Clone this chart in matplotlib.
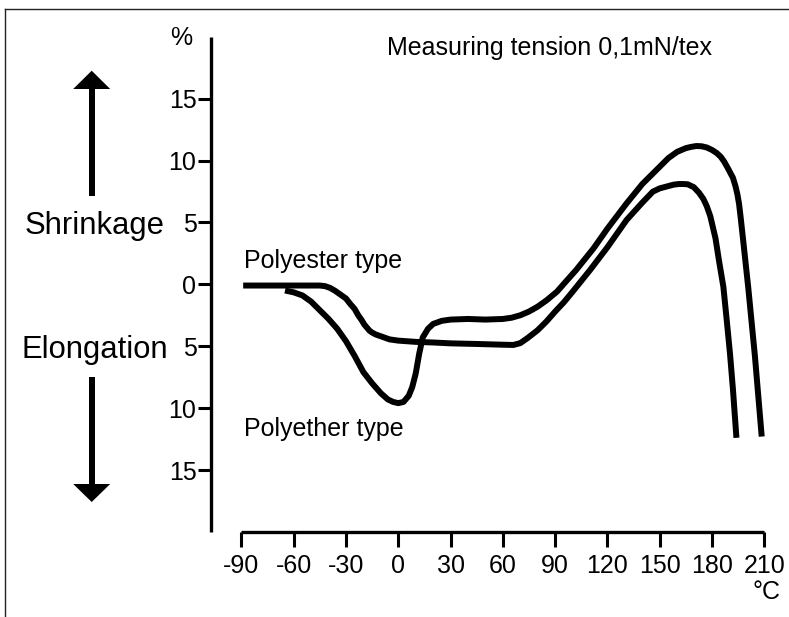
import matplotlib
matplotlib.use("Agg")
import matplotlib.pyplot as plt
from matplotlib.patches import Polygon
from matplotlib.lines import Line2D

plt.rcParams['font.family'] = ['Liberation Sans', 'DejaVu Sans']

# ---- data ----
polyester_T = [-89, -70, -55, -45, -42, -39, -36, -33, -30, -27.5, -25, -23, -21, -19.5, -18,
               -16.5, -15, -13, -10, -8, -5, 0,
               10, 20, 30, 45, 60, 66, 70, 74, 80, 85, 90, 95, 100, 110, 120, 131,
               140, 146, 150, 154, 158, 161, 163.5, 166, 169.5, 172.5, 175, 177, 179, 180.5, 182,
               184, 186.5, 188.5, 190.3, 192, 194]
polyester_v = [-0.1, -0.1, -0.1, -0.1, -0.15, -0.3, -0.55, -0.85, -1.15, -1.6, -2.0, -2.5, -2.9, -3.25, -3.5,
               -3.75, -3.9, -4.05, -4.2, -4.3, -4.45, -4.55,
               -4.65, -4.7, -4.77, -4.82, -4.88, -4.9, -4.75, -4.36, -3.7, -3.0, -2.2, -1.45, -0.6, 1.15, 3.0, 5.2,
               6.6, 7.48, 7.75, 7.9, 8.05, 8.1, 8.1, 8.08, 7.85, 7.4, 6.9, 6.3, 5.5, 4.6, 3.7,
               1.9, -0.2, -3.0, -5.6, -8.5, -12.4]

polyether_T = [-65, -60, -55, -50, -45, -40, -35, -30, -25, -20, -15, -10, -6, -3, 0,
               3, 6, 8, 10, 12, 14, 17, 20, 25, 30, 40, 50, 60, 65, 70, 75, 80, 85,
               91, 96, 102, 112, 120, 131, 140, 150, 155, 160, 165, 168, 171, 174, 177, 180,
               182.7, 185, 187, 189, 190.5, 192, 193.5, 194.5, 195.5, 196.5, 197.9, 200.8, 204.6, 208.5]
polyether_v = [-0.5, -0.65, -0.9, -1.4, -2.1, -2.8, -3.6, -4.6, -5.8, -7.1, -8.0, -8.8, -9.3, -9.5, -9.6,
               -9.5, -9.0, -8.3, -7.2, -5.6, -4.3, -3.6, -3.2, -2.95, -2.85, -2.8, -2.85, -2.8, -2.7, -2.5, -2.2, -1.8, -1.3,
               -0.6, 0.2, 1.15, 2.9, 4.5, 6.54, 8.1, 9.5, 10.2, 10.7, 11.0, 11.1, 11.17, 11.15, 11.05, 10.85,
               10.6, 10.3, 9.9, 9.4, 9.0, 8.6, 7.9, 7.3, 6.5, 5.3, 3.5, -0.3, -5.8, -12.3]

x_ticks = [-90, -60, -30, 0, 30, 60, 90, 120, 150, 180, 210]
x_tick_labels = ['-90', '-60', '-30', '0', '30', '60', '90', '120', '150', '180', '210']
y_ticks = [-15, -10, -5, 0, 5, 10, 15]
y_tick_labels = ['15', '10', '5', '0', '5', '10', '15']

W, H = 789, 617
fig = plt.figure(figsize=(W / 100, H / 100), dpi=100)
ax = fig.add_axes([0, 0, 1, 1])

# pixel mapping: x_px = 398.3 + 1.743*T ; y_px = 284.3 - 12.38*v
x0, sx = 398.3, 1.743
y0, sy = 284.3, 12.38
ax.set_xlim((0 - x0) / sx, (W - x0) / sx)
ax.set_ylim((y0 - H) / sy, (y0 - 0) / sy)
ax.patch.set_alpha(0)

lw_curve = 4.3
for T, v in ((polyester_T, polyester_v), (polyether_T, polyether_v)):
    ax.plot(T, v, color='black', lw=lw_curve, solid_capstyle='butt',
            solid_joinstyle='round')

# spines
for s in ('top', 'right'):
    ax.spines[s].set_visible(False)
ax.spines['left'].set_position(('data', (211 - x0) / sx))
ax.spines['left'].set_bounds(-20, 20)
ax.spines['bottom'].set_position(('data', -20))
ax.spines['bottom'].set_bounds(-90, 210)
for s in ('left', 'bottom'):
    ax.spines[s].set_linewidth(2.4)
    ax.spines[s].set_capstyle('butt')

ax.set_xticks(x_ticks)
ax.set_xticklabels(x_tick_labels)
ax.set_yticks(y_ticks)
ax.set_yticklabels(y_tick_labels)
ax.tick_params(axis='x', direction='out', length=11, width=2.2, pad=5, labelsize=18)
ax.tick_params(axis='y', direction='out', length=9.5, width=2.2, pad=1, labelsize=18)


def fx(px):
    return px / W


def fy(py):
    return 1 - py / H


fs = 18
fig.text(fx(181), fy(38), '%', fontsize=fs, ha='center', va='center')
fig.text(fx(387), fy(55), 'Measuring tension 0,1mN/tex', fontsize=fs, ha='left', va='baseline')
fig.text(fx(243.5), fy(268), 'Polyester type', fontsize=fs, ha='left', va='baseline')
fig.text(fx(243.5), fy(436), 'Polyether type', fontsize=fs, ha='left', va='baseline')
fig.text(fx(780), fy(592), '°C', fontsize=fs, ha='right', va='center')
fig.text(fx(25), fy(234), 'Shrinkage', fontsize=22.3, ha='left', va='baseline')
fig.text(fx(21), fy(358), 'Elongation', fontsize=22.3, ha='left', va='baseline')


def arrow(xc, shaft_start, head_base, tip):
    hw = 3.0
    hh = 18.5
    shaft = [(xc - hw, shaft_start), (xc + hw, shaft_start), (xc + hw, head_base), (xc - hw, head_base)]
    head = [(xc - hh, head_base), (xc + hh, head_base), (xc, tip)]
    for pts in (shaft, head):
        fig.patches.append(Polygon([(fx(a), fy(b)) for a, b in pts], closed=True,
                                   transform=fig.transFigure, facecolor='black',
                                   edgecolor='none', figure=fig))


arrow(91.7, 196, 89, 70.7)
arrow(91.7, 377, 484, 502)

# partial border (top and left)
fig.lines.append(Line2D([fx(5), fx(W)], [fy(9), fy(9)], transform=fig.transFigure,
                        color='#222222', lw=1.0, figure=fig))
fig.lines.append(Line2D([fx(5), fx(5)], [fy(9), fy(H)], transform=fig.transFigure,
                        color='#222222', lw=1.0, figure=fig))

fig.savefig('out.png', dpi=100)
